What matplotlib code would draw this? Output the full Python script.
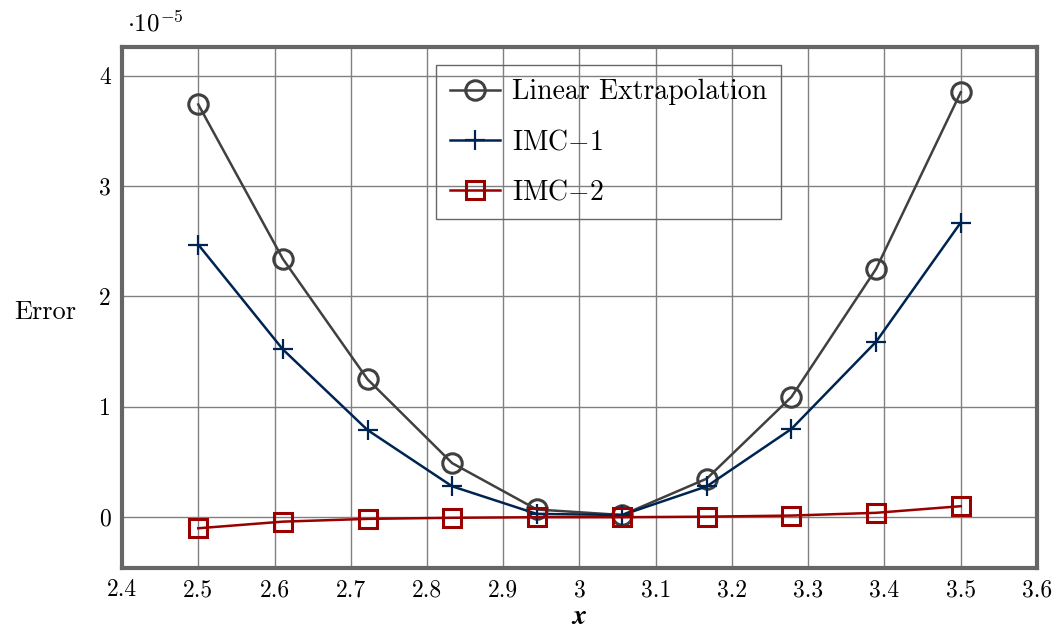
import matplotlib
matplotlib.use("Agg")
import matplotlib.pyplot as plt

plt.rcParams['font.family'] = 'serif'
plt.rcParams['font.serif'] = ['cmr10']
plt.rcParams['mathtext.fontset'] = 'cm'
plt.rcParams['axes.unicode_minus'] = False

# Data (errors in units of 1e-5)
x = [2.5, 2.611, 2.722, 2.833, 2.944, 3.056, 3.167, 3.278, 3.389, 3.5]
linear_extrap = [3.74, 2.34, 1.25, 0.49, 0.07, 0.02, 0.35, 1.09, 2.25, 3.85]
imc1 = [2.47, 1.52, 0.79, 0.28, 0.03, 0.02, 0.28, 0.80, 1.59, 2.67]
imc2 = [-0.10, -0.04, -0.015, -0.005, 0.0, 0.0, 0.005, 0.015, 0.04, 0.10]

xticks = [2.4, 2.5, 2.6, 2.7, 2.8, 2.9, 3.0, 3.1, 3.2, 3.3, 3.4, 3.5, 3.6]
xticklabels = ['2.4', '2.5', '2.6', '2.7', '2.8', '2.9', '3', '3.1', '3.2', '3.3', '3.4', '3.5', '3.6']
yticks = [0, 1, 2, 3, 4]

fig = plt.figure(figsize=(10.59, 6.30), dpi=100)
ax = fig.add_axes([122/1059, 1 - 568/630, 915/1059, 521/630])

ax.plot(x, linear_extrap, color='#404040', lw=1.8, marker='o', ms=14,
        mfc='none', mew=2.2, label='Linear Extrapolation', zorder=3)
ax.plot(x, imc1, color='#002452', lw=1.8, marker='+', ms=15,
        mew=1.6, label=r'IMC$-1$', zorder=4)
ax.plot(x, imc2, color='#990000', lw=1.8, marker='s', ms=13,
        mfc='none', mew=2.2, label=r'IMC$-2$', zorder=5)

ax.set_xlim(2.4, 3.6)
ax.set_ylim(-0.46, 4.26)
ax.set_xticks(xticks)
ax.set_xticklabels(xticklabels)
ax.set_yticks(yticks)
ax.tick_params(labelsize=17, direction='in', length=0, pad=8)
ax.grid(True, color='#808080', lw=1.0)
ax.set_axisbelow(True)
for s in ax.spines.values():
    s.set_color('#666666')
    s.set_linewidth(3)

ax.set_xlabel(r'$\boldsymbol{x}$', fontsize=20, labelpad=2)
ax.set_ylabel('Error', fontsize=19, rotation=0, ha='center', va='center')
ax.yaxis.set_label_coords(-0.084, 0.491)
ax.text(0.005, 1.02, r'$\cdot 10^{-5}$', transform=ax.transAxes,
        fontsize=18, va='bottom', ha='left')

leg = ax.legend(loc='upper left', bbox_to_anchor=(0.343, 0.965), fontsize=20,
                fancybox=False, framealpha=1, facecolor='none',
                edgecolor='#666666', borderpad=0.5, labelspacing=0.85,
                handlelength=1.8, handletextpad=0.45, borderaxespad=0)
leg.get_frame().set_linewidth(1.0)

fig.savefig('out.png', dpi=100)
